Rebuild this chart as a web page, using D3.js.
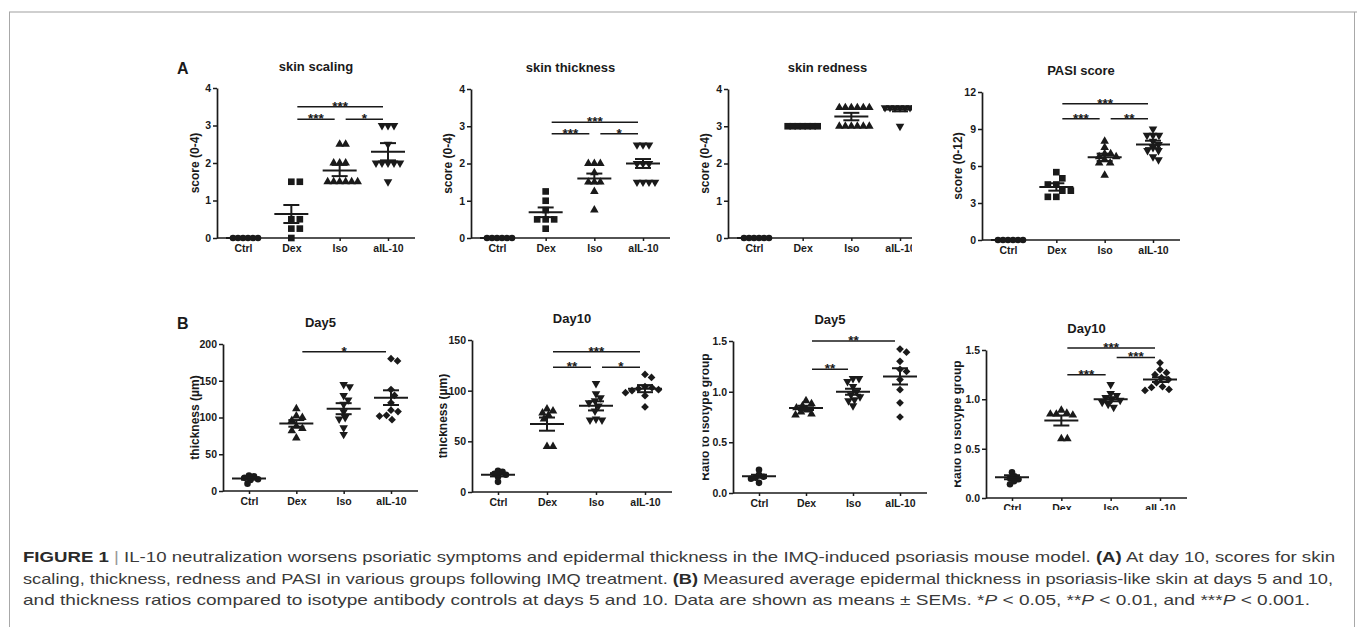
<!DOCTYPE html>
<html><head><meta charset="utf-8">
<script src="https://cdn.jsdelivr.net/npm/d3@7"></script>
<style>body{margin:0;background:#fff}</style>
</head><body>
<svg id="fig" width="1357" height="627"></svg>
<script>
// ---------------- DATA ----------------
const categories = ["Ctrl", "Dex", "Iso", "aIL-10"];
const shapesA = ["circle", "square", "triangle", "triangleDown"];
const shapesB = ["circle", "triangle", "triangleDown", "diamond"];

// A1 skin scaling
const scalingTitle = "skin scaling";
const scalingValues = [
  [0, 0, 0, 0, 0, 0],
  [1.5, 1.5, 0.5, 0.5, 0.25, 0.25, 0],
  [2.5, 2.5, 2, 2, 2, 1.5, 1.5, 1.5, 1.5, 1.5, 1.5],
  [3, 3, 3, 2.5, 2, 2, 2, 2, 2, 1.5]
];
const scalingMean = [0, 0.64, 1.8, 2.3];
const scalingSem = [0, 0.24, 0.15, 0.23];
const scalingSig = [[1, 3, 3.5, "***"], [1, 2, 3.17, "***"], [2, 3, 3.17, "*"]];

// A2 skin thickness
const thickTitle = "skin thickness";
const thickValues = [
  [0, 0, 0, 0, 0, 0],
  [1.25, 1, 0.75, 0.5, 0.5, 0.5, 0.25],
  [2, 2, 2, 1.75, 1.5, 1.5, 1.5, 1.25, 0.75],
  [2.5, 2.5, 2.5, 2, 2, 2, 1.5, 1.5, 1.5, 1.5]
];
const thickMean = [0, 0.69, 1.6, 2.0];
const thickSem = [0, 0.13, 0.13, 0.12];
const thickSig = [[1, 3, 3.11, "***"], [1, 2, 2.8, "***"], [2, 3, 2.8, "*"]];

// A3 skin redness
const rednessTitle = "skin redness";
const rednessValues = [
  [0, 0, 0, 0, 0, 0],
  [3, 3, 3, 3, 3, 3, 3],
  [3.5, 3.5, 3.5, 3.5, 3.5, 3.5, 3, 3, 3, 3, 3, 3],
  [3.5, 3.5, 3.5, 3.5, 3.5, 3.5, 3.5, 3]
];
const rednessMean = [0, 3, 3.26, 3.45];
const rednessSem = [0, 0, 0.1, 0.05];
const rednessSig = [];

const scoreTicks = [0, 1, 2, 3, 4];

// A4 PASI
const pasiTitle = "PASI score";
const pasiValues = [
  [0, 0, 0, 0, 0, 0],
  [5.5, 5, 4.5, 4.5, 4, 4, 3.5, 3.5],
  [8, 7.5, 7, 7, 6.75, 6.75, 6.5, 6.25, 6.25, 5.25],
  [9, 8.5, 8.5, 8.5, 8, 7.75, 7.5, 7.25, 7.25, 6.75, 6.5]
];
const pasiMean = [0, 4.3, 6.7, 7.75];
const pasiSem = [0, 0.3, 0.3, 0.3];
const pasiSig = [[1, 3, 11.05, "***"], [1, 2, 9.84, "***"], [2, 3, 9.84, "**"]];
const pasiTicks = [0, 3, 6, 9, 12];

// B1 Day5 thickness
const day5Title = "Day5";
const day5Values = [
  [21, 20, 18, 16, 15, 10],
  [112, 102, 100, 96, 88, 85, 82, 72],
  [145, 142, 130, 124, 118, 108, 100, 98, 86, 77],
  [180, 177, 138, 130, 120, 110, 108, 103, 102, 97]
];
const day5Mean = [17, 92, 112, 127];
const day5Sem = [1.6, 4.5, 7.5, 10];
const day5Sig = [[1, 3, 189.5, "*"]];
const day5Ticks = [0, 50, 100, 150, 200];

// B2 Day10 thickness
const day10Title = "Day10";
const day10Values = [
  [21, 20, 18, 17, 15, 10],
  [82, 80, 78, 76, 72, 45, 45],
  [107, 97, 93, 90, 88, 85, 80, 72, 71, 71],
  [116, 113, 104, 103, 102, 101, 100, 98, 95, 84]
];
const day10Mean = [17, 67, 85, 102];
const day10Sem = [1.6, 6.5, 4.5, 3.5];
const day10Sig = [[1, 3, 138.5, "***"], [1, 2, 123, "**"], [2, 3, 123, "*"]];
const day10Ticks = [0, 50, 100, 150];

// B3 Day5 ratio
const ratio5Values = [
  [0.23, 0.18, 0.16, 0.15, 0.14, 0.1],
  [0.91, 0.88, 0.86, 0.84, 0.82, 0.8, 0.78, 0.77],
  [1.13, 1.13, 1.1, 1.05, 1.0, 0.97, 0.95, 0.92, 0.91, 0.86],
  [1.42, 1.39, 1.3, 1.22, 1.2, 1.12, 1.02, 0.89, 0.75]
];
const ratio5Mean = [0.165, 0.84, 1.0, 1.15];
const ratio5Sem = [0.015, 0.02, 0.03, 0.08];
const ratio5Sig = [[1, 3, 1.5, "**"], [1, 2, 1.22, "**"]];

// B4 Day10 ratio
const ratio10Values = [
  [0.26, 0.22, 0.2, 0.19, 0.17, 0.14],
  [0.89, 0.86, 0.85, 0.85, 0.84, 0.6, 0.6],
  [1.15, 1.06, 1.04, 1.02, 1.0, 0.99, 0.97, 0.95, 0.92],
  [1.37, 1.3, 1.27, 1.25, 1.22, 1.2, 1.17, 1.13, 1.12, 1.1, 1.09]
];
const ratio10Mean = [0.21, 0.785, 1.0, 1.2];
const ratio10Sem = [0.02, 0.05, 0.02, 0.025];
const ratio10Sig = [[1, 3, 1.52, "***"], [2, 3, 1.425, "***"], [1, 2, 1.25, "***"]];
const ratioTicks = [0, 0.5, 1.0, 1.5];

const yLabelScore4 = "score (0-4)";
const yLabelScore12 = "score (0-12)";
const yLabelThick = "thickness (\u00b5m)";
const yLabelRatio = "Ratio to isotype group";

// ---------------- LAYOUT ----------------
const INK = "#1a1a1a";
const FONT = "'Liberation Sans', Arial, sans-serif";
const svg = d3.select("#fig");

// frame
svg.append("line").attr("x1", 9).attr("x2", 1357).attr("y1", 12).attr("y2", 12)
  .attr("stroke", "#cfcfcf").attr("stroke-width", 2);
svg.append("line").attr("x1", 9.5).attr("x2", 9.5).attr("y1", 12).attr("y2", 627)
  .attr("stroke", "#a8a8a8").attr("stroke-width", 1);
svg.append("line").attr("x1", 1354.5).attr("x2", 1354.5).attr("y1", 12).attr("y2", 627)
  .attr("stroke", "#a8a8a8").attr("stroke-width", 1);

const panels = [
  {values: scalingValues, mean: scalingMean, sem: scalingSem, sig: scalingSig, title: scalingTitle,
   ylab: yLabelScore4, ticks: scoreTicks, fmt: d3.format("d"), shapes: shapesA,
   L: 217, R: 415, y0: 238, yT: 88, ylx: 22, clip: [140, 20, 300, 490]},
  {values: thickValues, mean: thickMean, sem: thickSem, sig: thickSig, title: thickTitle,
   ylab: yLabelScore4, ticks: scoreTicks, fmt: d3.format("d"), shapes: shapesA,
   L: 471, R: 670, y0: 238, yT: 89, ylx: 23, clip: [440, 20, 250, 490]},
  {values: rednessValues, mean: rednessMean, sem: rednessSem, sig: rednessSig, title: rednessTitle,
   ylab: yLabelScore4, ticks: scoreTicks, fmt: d3.format("d"), shapes: shapesA,
   L: 728, R: 927, y0: 238, yT: 89, ylx: 23, clip: [690, 20, 222, 490]},
  {values: pasiValues, mean: pasiMean, sem: pasiSem, sig: pasiSig, title: pasiTitle,
   ylab: yLabelScore12, ticks: pasiTicks, fmt: d3.format("d"), shapes: shapesA,
   L: 982, R: 1180, y0: 240, yT: 92, ylx: 24, clip: [940, 20, 260, 490]},
  {values: day5Values, mean: day5Mean, sem: day5Sem, sig: day5Sig, title: day5Title,
   ylab: yLabelThick, ticks: day5Ticks, fmt: d3.format("d"), shapes: shapesB,
   L: 223, R: 418, y0: 491, yT: 344, ylx: 28, clip: [140, 20, 300, 490]},
  {values: day10Values, mean: day10Mean, sem: day10Sem, sig: day10Sig, title: day10Title,
   ylab: yLabelThick, ticks: day10Ticks, fmt: d3.format("d"), shapes: shapesB,
   L: 472, R: 672, y0: 492, yT: 340, ylx: 29, clip: [439, 20, 252, 490]},
  {values: ratio5Values, mean: ratio5Mean, sem: ratio5Sem, sig: ratio5Sig, title: day5Title,
   ylab: yLabelRatio, ticks: ratioTicks, fmt: d3.format(".1f"), shapes: shapesB,
   L: 733, R: 927, y0: 493, yT: 341, ylx: 28, clip: [702.5, 20, 240, 490]},
  {values: ratio10Values, mean: ratio10Mean, sem: ratio10Sem, sig: ratio10Sig, title: day10Title,
   ylab: yLabelRatio, ticks: ratioTicks, fmt: d3.format(".1f"), shapes: shapesB,
   L: 986, R: 1187, y0: 498, yT: 350, ylx: 29, clip: [954.5, 20, 250, 490]}
];

function symbolPath(name) {
  if (name === "circle") return d3.symbol(d3.symbolCircle, 34)();
  if (name === "square") return d3.symbol(d3.symbolSquare, 44)();
  if (name === "triangle" || name === "triangleDown") return d3.symbol(d3.symbolTriangle, 32)();
  if (name === "diamond") return d3.symbol(d3.symbolSquare, 30)();
}
function symbolRot(name) {
  if (name === "triangleDown") return 180;
  if (name === "diamond") return 45;
  return 0;
}
const spacing = {circle: 4.6, square: 8.5, triangle: 6, triangleDown: 6, diamond: 6.8};
const maxRowWidth = 28;

function swarm(vals, y, d) {
  const placed = [];
  const order = vals.map((v, i) => i).sort((a, b) => vals[b] - vals[a]);
  const res = new Array(vals.length).fill(0);
  for (const i of order) {
    const py = y(vals[i]);
    let chosen = 0;
    outer:
    for (let k = 0; k < 200; k++) {
      const cands = k === 0 ? [0] : [k * 0.5, -k * 0.5];
      for (const c of cands) {
        if (placed.every(p => (p.x - c) ** 2 + (p.y - py) ** 2 >= d * d)) { chosen = c; break outer; }
      }
    }
    placed.push({x: chosen, y: py});
    res[i] = chosen;
  }
  return res;
}

panels.forEach((p, pi) => {
  const cid = "clip" + pi;
  svg.append("clipPath").attr("id", cid).append("rect")
    .attr("x", p.clip[0]).attr("y", p.clip[1]).attr("width", p.clip[2]).attr("height", p.clip[3]);
  const g = svg.append("g").attr("clip-path", `url(#${cid})`);

  const dom = [p.ticks[0], p.ticks[p.ticks.length - 1]];
  const y = d3.scaleLinear().domain(dom).range([p.y0, p.yT]);
  const x = d3.scalePoint().domain(categories).range([p.L + 26, p.R - 27]);

  // y axis
  const ya = g.append("g").attr("transform", `translate(${p.L},0)`)
    .call(d3.axisLeft(y).tickValues(p.ticks).tickFormat(p.fmt).tickSize(4).tickSizeOuter(0).tickPadding(2));
  ya.select(".domain").attr("stroke", INK).attr("stroke-width", 1.7);
  ya.selectAll(".tick line").attr("stroke", INK).attr("stroke-width", 1.5);
  ya.selectAll(".tick text").attr("fill", INK).attr("font-family", FONT)
    .attr("font-weight", "bold").attr("font-size", 10.5);

  // x axis
  const xa = g.append("g").attr("transform", `translate(0,${p.y0})`)
    .call(d3.axisBottom(x).tickSize(3).tickSizeOuter(0).tickPadding(4));
  xa.select(".domain").attr("d", `M${p.L},0H${p.R}`).attr("stroke", INK).attr("stroke-width", 1.7);
  xa.selectAll(".tick line").attr("stroke", INK).attr("stroke-width", 1.5);
  xa.selectAll(".tick text").attr("fill", INK).attr("font-family", FONT)
    .attr("font-weight", "bold").attr("font-size", 10.5);

  // title
  g.append("text").attr("x", (p.L + p.R) / 2).attr("y", p.yT - 17.5)
    .attr("text-anchor", "middle").attr("font-family", FONT).attr("font-weight", "bold")
    .attr("font-size", 13).attr("fill", INK).text(p.title);

  // y label
  g.append("text").attr("transform", `translate(${p.L - p.ylx},${(p.y0 + p.yT) / 2}) rotate(-90)`)
    .attr("text-anchor", "middle").attr("dy", "0.35em").attr("font-family", FONT).attr("font-weight", "bold")
    .attr("font-size", 12).attr("fill", INK).text(p.ylab);

  // points
  p.values.forEach((vals, ci) => {
    const shape = p.shapes[ci];
    const maxSame = d3.max(d3.rollups(vals, v => v.length, v => v), r => r[1]);
    const d = maxSame > 1 ? Math.min(spacing[shape], maxRowWidth / (maxSame - 1)) : spacing[shape];
    const offs = swarm(vals, y, d);
    const cx = x(categories[ci]);
    g.append("g").selectAll("path").data(vals).join("path")
      .attr("d", symbolPath(shape))
      .attr("transform", (v, i) => `translate(${cx + offs[i]},${y(v)}) rotate(${symbolRot(shape)})`)
      .attr("fill", INK);
  });

  // mean and SEM
  p.mean.forEach((m, ci) => {
    const cx = x(categories[ci]);
    const s = p.sem[ci];
    const lg = g.append("g").attr("stroke", INK).attr("stroke-width", 2).attr("fill", "none");
    lg.append("line").attr("x1", cx - 17).attr("x2", cx + 17).attr("y1", y(m)).attr("y2", y(m));
    if (s > 0) {
      lg.append("line").attr("x1", cx).attr("x2", cx).attr("y1", y(m - s)).attr("y2", y(m + s));
      lg.append("line").attr("x1", cx - 8).attr("x2", cx + 8).attr("y1", y(m + s)).attr("y2", y(m + s));
      lg.append("line").attr("x1", cx - 8).attr("x2", cx + 8).attr("y1", y(m - s)).attr("y2", y(m - s));
    }
  });

  // significance bars
  p.sig.forEach(([a, b, v, lab]) => {
    const x1 = x(categories[a]) + 6, x2 = x(categories[b]) - 5;
    g.append("line").attr("x1", x1).attr("x2", x2).attr("y1", y(v)).attr("y2", y(v))
      .attr("stroke", INK).attr("stroke-width", 1.5);
    g.append("text").attr("x", (x1 + x2) / 2).attr("y", y(v) + 4).attr("text-anchor", "middle")
      .attr("font-family", FONT).attr("font-weight", "bold").attr("font-size", 13.5).attr("fill", INK).text(lab);
  });
});

// panel letters
svg.append("text").attr("x", 177).attr("y", 74).attr("font-family", FONT).attr("font-weight", "bold")
  .attr("font-size", 16).attr("fill", INK).text("A");
svg.append("text").attr("x", 177).attr("y", 329).attr("font-family", FONT).attr("font-weight", "bold")
  .attr("font-size", 16).attr("fill", INK).text("B");

// caption
const captionLines = [
  [["FIGURE 1", "b"], [" | ", "sep"], ["IL-10 neutralization worsens psoriatic symptoms and epidermal thickness in the IMQ-induced psoriasis mouse model. ", "n"], ["(A)", "b"], [" At day 10, scores for skin", "n"]],
  [["scaling, thickness, redness and PASI in various groups following IMQ treatment. ", "n"], ["(B)", "b"], [" Measured average epidermal thickness in psoriasis-like skin at days 5 and 10,", "n"]],
  [["and thickness ratios compared to isotype antibody controls at days 5 and 10. Data are shown as means \u00b1 SEMs. *", "n"], ["P", "i"], [" < 0.05, **", "n"], ["P", "i"], [" < 0.01, and ***", "n"], ["P", "i"], [" < 0.001.", "n"]]
];
const captionY = [562, 583.5, 605];
const captionEnd = [1335, 1333, 1310];
captionLines.forEach((segs, li) => {
  const t = svg.append("text").attr("x", 23).attr("y", captionY[li])
    .attr("font-family", FONT).attr("font-size", 15).attr("fill", "#3a3a3a");
  segs.forEach(([s, st]) => {
    const ts = t.append("tspan").text(s);
    if (st === "b") ts.attr("font-weight", "bold").attr("fill", "#2a2a2a");
    if (st === "i") ts.attr("font-style", "italic");
    if (st === "sep") ts.attr("fill", "#999");
  });
  t.attr("textLength", captionEnd[li] - 23).attr("lengthAdjust", "spacingAndGlyphs");
});
</script>
</body></html>
